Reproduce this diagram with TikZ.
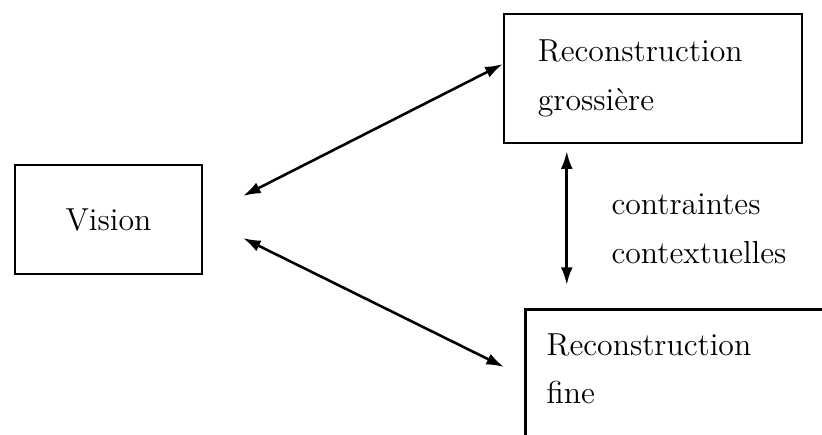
\documentclass[tikz,border=0pt]{standalone}
\usetikzlibrary{arrows.meta,calc}

\begin{document}
\begin{tikzpicture}[x=0.0136cm,y=-0.0136cm,>={Latex[length=2.4mm,width=1.6mm]},
    boite/.style={draw,line width=1pt,rectangle,font=\fontsize{12.3}{14.8}\selectfont},
    lien/.style={line width=1pt,<->}]
    \useasboundingbox (0,0) rectangle (822,434);
    \clip (0,0) rectangle (822,434);
    % boites
    \node[boite,minimum width=2.54cm,minimum height=1.48cm] (vision) at (108.5,219.5) {Vision};
    \node[boite,minimum width=4.05cm,minimum height=1.75cm,inner xsep=0.46cm,text width=3.13cm,align=left] (grob) at (653,78.5) {Reconstruction\\[4pt]grossi\`ere};
    \node[boite,anchor=north west,inner xsep=0.29cm,inner ysep=0.33cm,text width=3.8cm,text depth=2cm,align=left] (fine) at (524,308) {Reconstruction\\[4pt]fine};
    \node[font=\fontsize{12.3}{14.8}\selectfont,align=left,anchor=west,inner sep=0pt] (ctx) at (611,229) {contraintes\\[4pt]contextuelles};
    % extremites libres
    \coordinate (v1) at (243,196);
    \coordinate (v2) at (243,238);
    \coordinate (g1) at ($(grob.north west)!0.39!(grob.south west)$);
    \coordinate (g2) at ($(grob.south west)+(64,7)$);
    \coordinate (f1) at ($(fine.north west)+(-20,59)$);
    \coordinate (f2) at ($(g2 |- fine.north)+(0,-23)$);
    % fleches
    \draw[lien] (v1) -- (g1);
    \draw[lien] (v2) -- (f1);
    \draw[lien] (g2) -- (f2);
\end{tikzpicture}
\end{document}
